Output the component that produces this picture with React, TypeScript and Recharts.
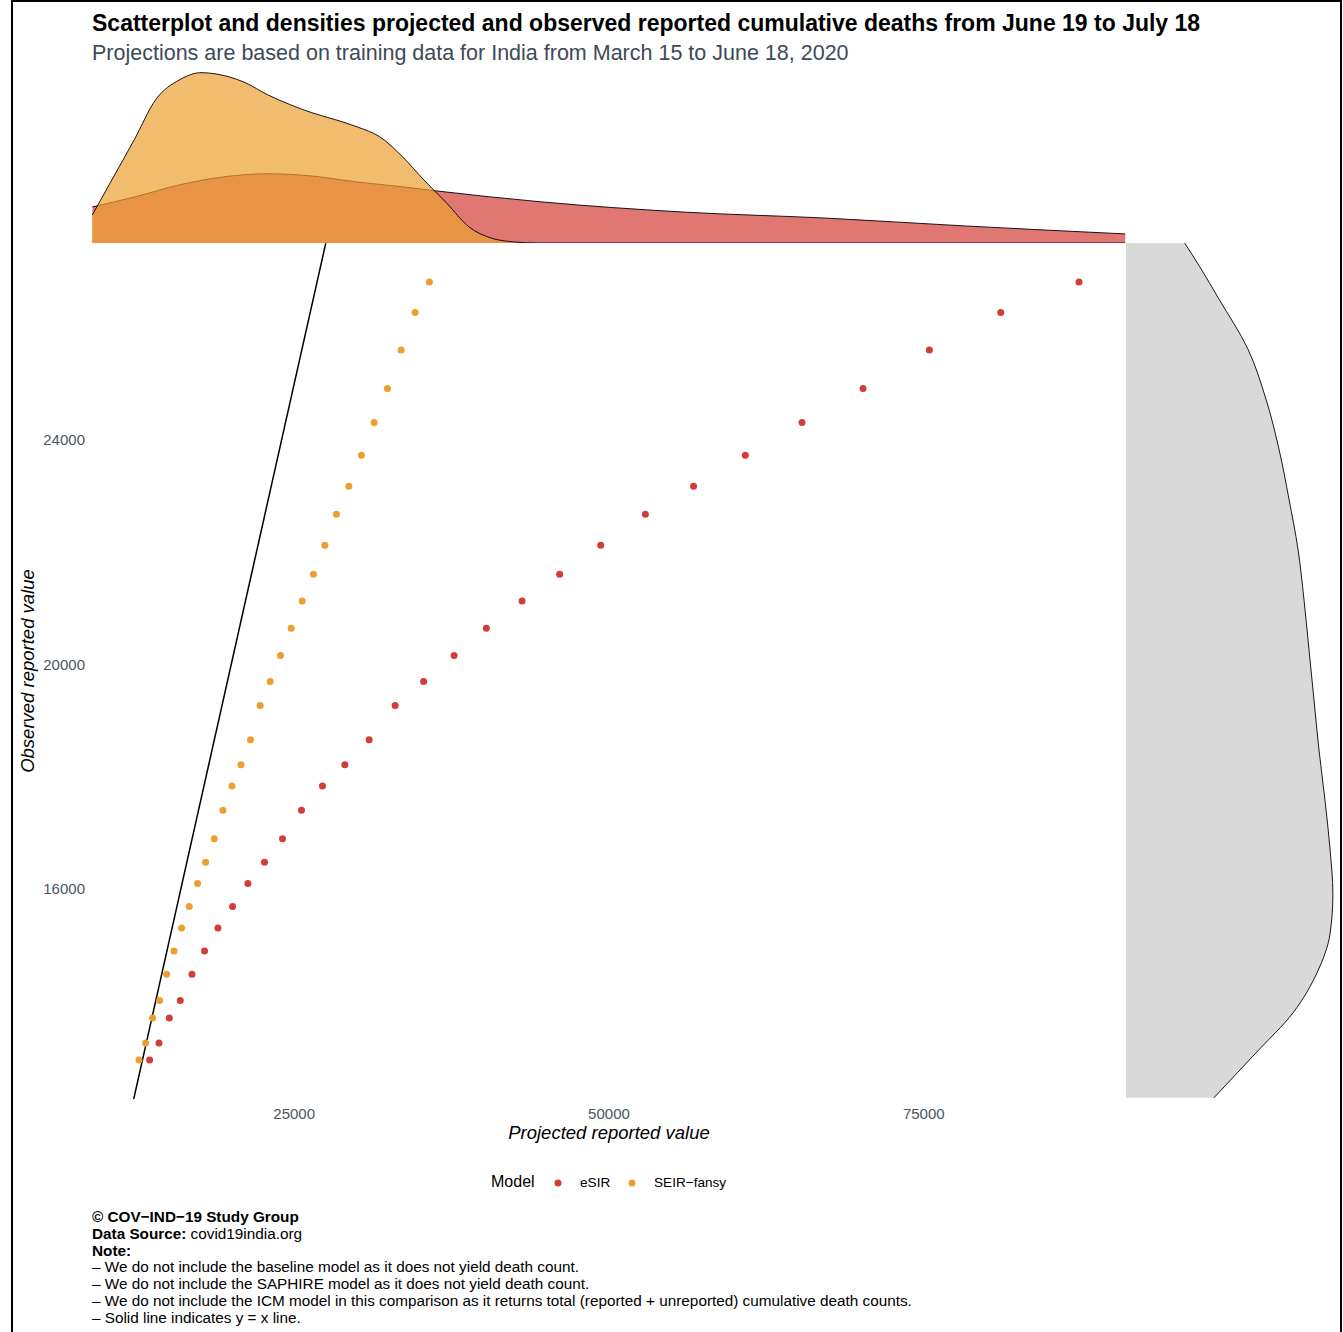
import React from 'react';
import { ScatterChart, Scatter, XAxis, YAxis, ReferenceLine, ComposedChart, Area } from 'recharts';

// Observed reported cumulative deaths, June 19 .. July 18
const observed = [
  12948, 13254, 13699, 14011, 14476, 14894, 15301, 15685, 16095, 16475,
  16893, 17400, 17834, 18213, 18655, 19268, 19693, 20160, 20642, 21129,
  21604, 22123, 22674, 23174, 23727, 24309, 24915, 25602, 26273, 26816,
];

// Projected reported cumulative deaths for the same days
const esirProjected = [
  13515, 14261, 15079, 15952, 16880, 17880, 18944, 20103, 21325, 22643,
  24071, 25579, 27246, 29024, 30953, 33016, 35278, 37699, 40263, 43096,
  46081, 49343, 52891, 56716, 60828, 65328, 70177, 75448, 81115, 87329,
];
const fansyProjected = [
  12674, 13198, 13753, 14309, 14864, 15452, 16055, 16666, 17325, 17960,
  18650, 19341, 20055, 20770, 21532, 22301, 23095, 23913, 24762, 25635,
  26532, 27437, 28357, 29342, 30342, 31350, 32405, 33493, 34604, 35739,
];

// Marginal densities (relative units) of the projected values
const esirDensX = [8970, 12300, 15900, 19400, 22900, 26400, 30000, 33600, 36200, 44600, 55900, 67100, 78300, 91000];
const esirDensY = [1.27, 1.62, 2.05, 2.33, 2.44, 2.36, 2.15, 1.98, 1.84, 1.45, 1.09, 0.88, 0.6, 0.32];
const fansyDensX = [
  8970, 10600, 12300, 14000, 15900, 17600, 19500, 21100, 22900, 24700, 26400, 28300,
  30000, 31800, 33600, 35300, 37100, 38900, 40600, 42400, 44200, 50000, 91000,
];
const fansyDensY = [
  0.99, 2.29, 3.64, 5.05, 5.75, 6.0, 5.89, 5.65, 5.22, 4.87, 4.59, 4.34,
  4.09, 3.74, 3.04, 2.22, 1.41, 0.56, 0.18, 0.04, 0, 0, 0,
];

// Marginal density of the observed values
const obsDensX = [
  12276, 13094, 13789, 14502, 15197, 15910, 16711, 17602, 18493, 19384,
  20275, 21166, 22057, 22948, 23839, 24730, 25621, 26512, 27083, 27528,
];
const obsDensY = [
  4.58, 6.82, 8.7, 9.95, 10.63, 10.78, 10.63, 10.36, 10.05, 9.79,
  9.53, 9.27, 8.96, 8.49, 7.97, 7.29, 6.35, 4.84, 3.85, 3.02,
];

const xTicks = [25000, 50000, 75000];
const yTicks = [16000, 20000, 24000];

const RED = '#D33D38';
const ORANGE = '#EC9F31';
const FONT = '"Liberation Sans", Arial, Helvetica, sans-serif';
const TICK_COLOR = '#4a5562';

// ggplot-style 5% expansion of the data range
const expand = (vals: number[]) => {
  const lo = Math.min(...vals);
  const hi = Math.max(...vals);
  const pad = (hi - lo) * 0.05;
  return [lo - pad, hi + pad];
};
const [xLo, xHi] = expand([...esirProjected, ...fansyProjected]);
const [yLo, yHi] = expand(observed);

const esirPoints = esirProjected.map((x, i) => ({ x, y: observed[i] }));
const fansyPoints = fansyProjected.map((x, i) => ({ x, y: observed[i] }));
const esirDens = esirDensX.map((x, i) => ({ x, d: esirDensY[i] }));
const fansyDens = fansyDensX.map((x, i) => ({ x, d: fansyDensY[i] }));
const obsDens = obsDensX.map((y, i) => ({ y, d: obsDensY[i] }));

const dot = (color: string) => (props: any) => (
  <circle cx={props.cx} cy={props.cy} r={3.5} fill={color} />
);

const abs = (left: number, top: number, extra: React.CSSProperties = {}): React.CSSProperties => ({
  position: 'absolute',
  left,
  top,
  fontFamily: FONT,
  whiteSpace: 'nowrap',
  ...extra,
});

const captionLines = [
  '– We do not include the baseline model as it does not yield death count.',
  '– We do not include the SAPHIRE model as it does not yield death count.',
  '– We do not include the ICM model in this comparison as it returns total (reported + unreported) cumulative death counts.',
  '– Solid line indicates y = x line.',
];

const App: React.FC = () => {
  return (
    <div style={{ position: 'absolute', left: 0, top: 0, width: 1343, height: 1332, background: '#fff', overflow: 'hidden' }}>
      <div style={{ position: 'absolute', left: 11, top: 0, width: 1331, height: 1360, border: '2px solid #000', boxSizing: 'border-box' }} />

      <div style={abs(92, 10, { fontSize: 23, fontWeight: 'bold', color: '#000', lineHeight: '26px' })}>
        Scatterplot and densities projected and observed reported cumulative deaths from June 19 to July 18
      </div>
      <div style={abs(92, 41, { fontSize: 21.5, color: '#3d4a58', lineHeight: '24px' })}>
        Projections are based on training data for India from March 15 to June 18, 2020
      </div>

      {/* top marginal: densities of projected values */}
      <div style={{ position: 'absolute', left: 0, top: 60 }}>
        <ComposedChart width={1343} height={183} margin={{ top: 7, right: 217, bottom: 0, left: 92 }}>
          <XAxis type="number" dataKey="x" domain={[xLo, xHi]} allowDataOverflow hide />
          <YAxis type="number" domain={[0, 6.2]} allowDataOverflow hide />
          <Area data={esirDens} dataKey="d" type="monotone" fill={RED} fillOpacity={0.7} stroke="#000" strokeWidth={0.9} isAnimationActive={false} />
          <Area data={fansyDens} dataKey="d" type="monotone" fill={ORANGE} fillOpacity={0.7} stroke="#000" strokeWidth={0.9} isAnimationActive={false} />
        </ComposedChart>
      </div>

      {/* right marginal: density of observed values */}
      <div style={{ position: 'absolute', left: 1126, top: 243 }}>
        <ComposedChart layout="vertical" width={214} height={856} margin={{ top: 0, right: 0, bottom: 0, left: 0 }}>
          <XAxis type="number" domain={[0, 11.15]} allowDataOverflow hide />
          <YAxis type="number" dataKey="y" domain={[yLo, yHi]} allowDataOverflow reversed hide />
          <Area data={obsDens} dataKey="d" type="monotone" fill="#D9D9D9" fillOpacity={1} stroke="#000" strokeWidth={0.9} isAnimationActive={false} />
        </ComposedChart>
      </div>

      {/* main scatter */}
      <div style={{ position: 'absolute', left: 0, top: 230 }}>
        <ScatterChart width={1130} height={900} margin={{ top: 13, right: 4, bottom: 0, left: 32 }}>
          <XAxis
            type="number"
            dataKey="x"
            domain={[xLo, xHi]}
            ticks={xTicks}
            allowDataOverflow
            axisLine={false}
            tickLine={false}
            tickSize={0}
            tickMargin={9}
            height={31}
            tick={{ fill: TICK_COLOR, fontSize: 15, fontFamily: FONT }}
          />
          <YAxis
            type="number"
            dataKey="y"
            domain={[yLo, yHi]}
            ticks={yTicks}
            allowDataOverflow
            axisLine={false}
            tickLine={false}
            tickSize={0}
            tickMargin={7}
            width={60}
            tick={{ fill: TICK_COLOR, fontSize: 15, fontFamily: FONT }}
          />
          <Scatter data={esirPoints} fill={RED} shape={dot(RED)} isAnimationActive={false} />
          <Scatter data={fansyPoints} fill={ORANGE} shape={dot(ORANGE)} isAnimationActive={false} />
          <ReferenceLine
            segment={[{ x: yLo, y: yLo }, { x: yHi, y: yHi }]}
            stroke="#000"
            strokeWidth={1.5}
            ifOverflow="hidden"
          />
        </ScatterChart>
      </div>

      <div style={abs(609, 1122, { fontSize: 18.5, fontStyle: 'italic', color: '#000', transform: 'translateX(-50%)' })}>
        Projected reported value
      </div>
      <div
        style={abs(28, 671, {
          fontSize: 18.5,
          fontStyle: 'italic',
          color: '#000',
          transform: 'translate(-50%, -50%) rotate(-90deg)',
        })}
      >
        Observed reported value
      </div>

      {/* legend */}
      <div style={abs(491, 1173, { fontSize: 16, color: '#000' })}>Model</div>
      <svg style={{ position: 'absolute', left: 554, top: 1179 }} width={8} height={8}>
        <circle cx={4} cy={4} r={3.5} fill={RED} />
      </svg>
      <div style={abs(580, 1175, { fontSize: 13.6, color: '#000' })}>eSIR</div>
      <svg style={{ position: 'absolute', left: 628, top: 1179 }} width={8} height={8}>
        <circle cx={4} cy={4} r={3.5} fill={ORANGE} />
      </svg>
      <div style={abs(654, 1175, { fontSize: 13.6, color: '#000' })}>SEIR−fansy</div>

      {/* caption */}
      <div style={abs(92, 1209, { fontSize: 15.3, lineHeight: '16.8px', color: '#000' })}>
        <div style={{ fontWeight: 'bold' }}>© COV−IND−19 Study Group</div>
        <div>
          <b>Data Source:</b> covid19india.org
        </div>
        <div style={{ fontWeight: 'bold' }}>Note:</div>
        {captionLines.map((t, i) => (
          <div key={i}>{t}</div>
        ))}
      </div>
    </div>
  );
};

export default App;
